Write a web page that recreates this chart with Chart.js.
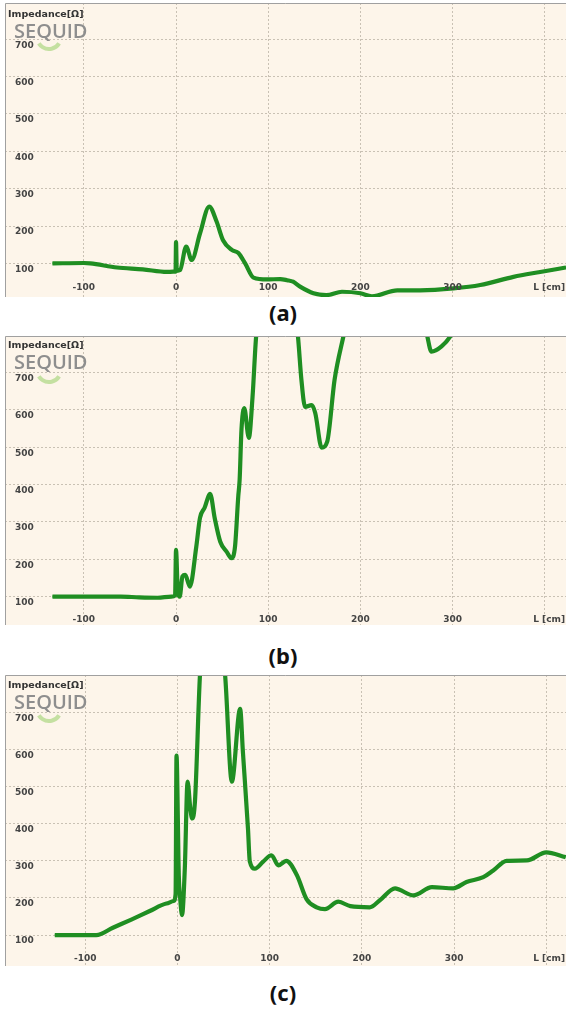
<!DOCTYPE html>
<html><head><meta charset="utf-8">
<script src="https://cdn.jsdelivr.net/npm/chart.js@4.4.1/dist/chart.umd.min.js"></script>
<style>
html,body{margin:0;padding:0;background:#fff;}
body{width:566px;height:1010px;position:relative;overflow:hidden;}
canvas{position:absolute;left:5px;}
.ttl{position:absolute;left:8px;font:bold 9.5px "DejaVu Sans",sans-serif;line-height:12px;color:#333;white-space:nowrap;}
.logo{position:absolute;left:14px;font:600 20px "Open Sans",sans-serif;line-height:20px;color:#8e8e8e;white-space:nowrap;}
.cap{position:absolute;left:0;width:566px;text-align:center;font:bold 22px "Noto Sans",sans-serif;line-height:26px;color:#111;}
</style></head><body>
<canvas id="ca" width="561" height="294" style="top:3px"></canvas>
<canvas id="cb" width="561" height="289" style="top:336px"></canvas>
<canvas id="cc" width="561" height="291" style="top:675px"></canvas>
<div class="ttl" style="top:8px">Impedance[Ω]</div>
<div class="logo" style="top:21px">SEQUID</div>
<div class="cap" style="top:299px">(a)</div>
<div class="ttl" style="top:339px">Impedance[Ω]</div>
<div class="logo" style="top:352px">SEQUID</div>
<div class="cap" style="top:642px">(b)</div>
<div class="ttl" style="top:679px">Impedance[Ω]</div>
<div class="logo" style="top:692px">SEQUID</div>
<div class="cap" style="top:979px">(c)</div>
<script>
// ---- data (length in cm, impedance in ohm) ----
const lenA = [-134,-100,-93,-64,-36,-10,-3,-0.5,0,0.8,4.4,11,17,26,36,44,51,60.5,67.7,75,84,99,113,120.5,127,135,149,163,180,200,212.5,240,265,301,330,366,395,423];
const impA = [100,101,100,89,84,77,78,78,157,80,82,145,109,180,252,212,162,136,128,100,62,57,58,55,51,37,20,15,24,20,12,28,28,33,42,64,77,89];

const lenB = [-134,-100,-60,-40,-20,-5,-1,0,2,4,7,10,15,22,26,31,37,42,48,55,60,64,67.5,69,71,74,79,83,87,95,110,125,132,136,140,147,151,158,164,172,182,195,230,260,272,277,288,299,320,360,423];
const impB = [100,100,100,98,97,100,103,225,110,100,154,158,127,234,311,338,375,310,247,220,203,234,368,413,547,605,525,635,800,920,1000,900,803,681,608,613,592,499,515,681,802,950,1000,900,803,756,770,802,900,1000,1000];

const lenC = [-133,-88,-70,-50,-30,-12,-4,-2,-1,1.5,3,5,8,11,14,16,19,24.5,30,40,51.6,59,68,71,76.5,78.5,84,93,102,109.5,118,129.5,140,151,160,174.5,187.5,208.5,219.5,236,241,256,276,299,313.5,331.7,342.5,357,379,400,421];
const impC = [100,100,120,142,165,185,192,210,583,260,198,154,279,513,440,414,459,803,950,1000,803,513,709,593,387,298,279,298,315,288,300,262,197,175,170,190,178,175,194,226,222,207,229,226,243,256,274,300,301,323,310];

const xTicks = [-100,0,100,200,300,400];
const xTickLabels = ['-100','0','100','200','300','L [cm]'];
const yTicks = [100,200,300,400,500,600,700];

const deco = {
  id:'deco',
  beforeDraw(chart){
    const {ctx,width,height} = chart;
    ctx.save();
    ctx.fillStyle = '#fdf5ea';
    ctx.fillRect(0,0,width,height);
    ctx.strokeStyle = 'rgba(150,205,100,0.55)';
    ctx.lineWidth = 4;
    ctx.beginPath();
    ctx.arc(44,34,12,0.18*Math.PI,0.82*Math.PI);
    ctx.stroke();
    ctx.restore();
  },
  afterDraw(chart,args,opts){
    const ctx = chart.ctx, xs = chart.scales.x, ys = chart.scales.y, a = chart.chartArea;
    ctx.save();
    ctx.font = 'bold 9px "DejaVu Sans", sans-serif';
    ctx.fillStyle = '#444';
    ctx.textBaseline = 'middle';
    ctx.textAlign = 'left';
    yTicks.forEach(v => ctx.fillText(String(v), a.left+10, ys.getPixelForValue(v)+6));
    xTicks.forEach((v,i) => {
      const t = xTickLabels[i];
      if (i === xTicks.length-1) { ctx.textAlign='right'; ctx.fillText(t, a.right-1, a.bottom-opts.labelOffset); }
      else { ctx.textAlign='center'; ctx.fillText(t, xs.getPixelForValue(v), a.bottom-opts.labelOffset); }
    });
    ctx.strokeStyle = '#a0a0a0';
    ctx.lineWidth = 1;
    ctx.beginPath();
    ctx.moveTo(0.5, chart.height); ctx.lineTo(0.5,0.5); ctx.lineTo(chart.width,0.5);
    ctx.stroke();
    ctx.restore();
  }
};

function makeChart(id, lens, imps, xr, yr, labelOffset){
  const pts = lens.map((x,i)=>({x, y: imps[i]}));
  const ds = (color,w) => ({data: pts, borderColor: color, borderWidth: w, pointRadius: 0, fill: false, cubicInterpolationMode: 'monotone', clip: 0});
  new Chart(document.getElementById(id), {
    type: 'line',
    data: { datasets: [ ds('#1f8e22',4.2), ds('#33ac33',2.4) ] },
    options: {
      responsive: false, animation: false, events: [],
      layout: { padding: 0 },
      plugins: { legend: {display:false}, tooltip: {enabled:false}, deco: {labelOffset} },
      scales: {
        x: { type:'linear', min: xr[0], max: xr[1],
             afterBuildTicks: s => { s.ticks = xTicks.map(v=>({value:v})); },
             afterFit: s => { s.height = 0; },
             ticks: {display:false},
             grid: {color:'#c9c1b4', lineWidth:1, drawTicks:false},
             border: {display:false, dash:[2,2]} },
        y: { type:'linear', min: yr[0], max: yr[1],
             afterBuildTicks: s => { s.ticks = yTicks.map(v=>({value:v})); },
             afterFit: s => { s.width = 0; },
             ticks: {display:false},
             grid: {color:'#c9c1b4', lineWidth:1, drawTicks:false},
             border: {display:false, dash:[2,2]} }
      }
    },
    plugins: [deco]
  });
}

makeChart('ca', lenA, impA, [-185.5,423], [10,797], 9);
makeChart('cb', lenB, impB, [-185.5,423], [24,798], 5);
makeChart('cc', lenC, impC, [-187,421.4], [17,800], 7);
</script>
</body></html>
